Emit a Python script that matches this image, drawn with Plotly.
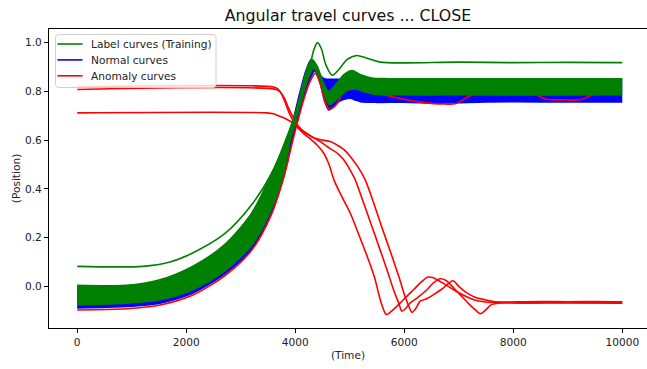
import plotly.graph_objects as go

# ---- Label curves (training): envelope of the dense band ----
label_hi_t = [0, 900, 1500, 2100, 2700, 3200, 3550, 3800, 3970, 4090, 4200, 4300, 4400, 4500, 4610,
              4750, 4900, 5040, 5200, 5400, 5700, 7000, 8500, 10000]
label_hi_v = [0.004, 0.004, 0.026, 0.08, 0.17, 0.30, 0.455, 0.58, 0.683, 0.785, 0.88, 0.932, 0.905, 0.845, 0.80,
              0.83, 0.87, 0.885, 0.868, 0.855, 0.852, 0.852, 0.852, 0.852]
label_lo_t = [0, 900, 1500, 2100, 2700, 3200, 3550, 3800, 3910, 4000, 4120, 4230, 4340, 4440, 4530,
              4630, 4780, 4930, 5060, 5250, 5450, 5700, 7000, 8500, 10000]
label_lo_v = [-0.075, -0.069, -0.056, -0.016, 0.062, 0.168, 0.31, 0.478, 0.60, 0.67, 0.77, 0.85, 0.895, 0.86, 0.79,
              0.745, 0.772, 0.80, 0.813, 0.80, 0.788, 0.786, 0.786, 0.785, 0.786]

# single training curve that sits above the band
label_top_t = [0, 1200, 1700, 2100, 2700, 3200, 3600, 3850, 3970, 4100, 4250, 4340, 4410, 4480, 4560,
               4680, 4800, 4950, 5130, 5300, 5560, 6000, 7000, 8000, 9000, 10000]
label_top_v = [0.082, 0.082, 0.1, 0.135, 0.215, 0.335, 0.478, 0.615, 0.683, 0.76, 0.88, 0.97, 1.0, 0.975, 0.91,
               0.866, 0.89, 0.93, 0.947, 0.937, 0.92, 0.917, 0.92, 0.918, 0.919, 0.918]

# ---- Normal curves: envelope of the dense band ----
normal_hi_t = [0, 900, 1500, 2100, 2700, 3200, 3550, 3800, 3960, 4080, 4190, 4290, 4380, 4460, 4530,
               5000, 6000, 7000, 8000, 9000, 10000]
normal_hi_v = [0.0, 0.0, 0.022, 0.076, 0.165, 0.295, 0.45, 0.578, 0.683, 0.79, 0.88, 0.93, 0.905, 0.865, 0.852,
               0.85, 0.848, 0.848, 0.848, 0.848, 0.848]
normal_lo_t = [0, 900, 1500, 2100, 2700, 3200, 3550, 3800, 3930, 4030, 4140, 4250, 4360, 4450, 4540,
               4615, 4700, 4800, 4900, 5010, 5100, 5200, 5500, 6000, 6600, 7000, 7500, 8500, 10000]
normal_lo_v = [-0.089, -0.083, -0.07, -0.03, 0.05, 0.155, 0.295, 0.462, 0.59, 0.675, 0.765, 0.84, 0.885, 0.84, 0.76,
               0.724, 0.735, 0.758, 0.768, 0.772, 0.765, 0.758, 0.755, 0.756, 0.752, 0.754, 0.757, 0.757, 0.757]

# ---- Anomaly curves ----
anom_1_t = [0, 900, 1500, 2100, 2700, 3200, 3550, 3800, 3940, 4040, 4150, 4260, 4370, 4460, 4550, 4625,
            4750, 4900, 5100, 5350, 5560, 5900, 6233, 6450, 6750, 6950, 7150, 7400, 7800, 8300, 8600, 8900,
            9230, 9500, 9800, 10000]
anom_1_v = [-0.097, -0.092, -0.078, -0.038, 0.042, 0.148, 0.288, 0.455, 0.585, 0.672, 0.762, 0.835, 0.875, 0.83,
            0.755, 0.728, 0.745, 0.80, 0.81, 0.81, 0.79, 0.772, 0.758, 0.752, 0.748, 0.75, 0.775, 0.80, 0.81,
            0.80, 0.768, 0.765, 0.766, 0.79, 0.805, 0.805]

anom_2_t = [0, 3600, 3680, 3760, 3830, 3900, 3970, 4050, 4130, 4250, 4400, 4520, 4620, 4710, 4850, 5010,
            5170, 5320, 5450, 5560, 5620, 5670, 5750, 5850, 5930, 6050, 6170, 6300, 6433, 6520, 6600, 6750,
            6905, 7100, 7272, 7450, 7640, 8000, 8500, 9000, 9500, 10000]
anom_2_v = [0.818, 0.818, 0.81, 0.785, 0.745, 0.705, 0.676, 0.65, 0.632, 0.61, 0.58, 0.547, 0.50, 0.437, 0.37,
            0.30, 0.21, 0.123, 0.04, -0.055, -0.095, -0.116, -0.105, -0.085, -0.068, -0.04, -0.014, 0.015,
            0.038, 0.036, 0.027, 0.008, -0.014, -0.038, -0.055, -0.063, -0.066, -0.064, -0.062, -0.063,
            -0.062, -0.063]

anom_3_t = [0, 3650, 3720, 3800, 3880, 3970, 4050, 4130, 4250, 4340, 4500, 4640, 4780, 4900, 5020, 5150,
            5284, 5450, 5600, 5750, 5900, 6020, 6100, 6141, 6200, 6294, 6420, 6538, 6700, 6893, 7000, 7150,
            7300, 7517, 7800, 8200, 9000, 10000]
anom_3_v = [0.808, 0.808, 0.798, 0.772, 0.73, 0.69, 0.66, 0.64, 0.622, 0.61, 0.60, 0.594, 0.578, 0.56, 0.53,
            0.49, 0.437, 0.335, 0.235, 0.14, 0.04, -0.045, -0.09, -0.107, -0.095, -0.061, -0.05, -0.034, -0.01,
            0.023, 0.0, -0.027, -0.045, -0.057, -0.066, -0.067, -0.066, -0.066]

anom_4_t = [0, 3480, 3600, 3725, 3850, 3969, 4090, 4214, 4330, 4450, 4642, 4780, 4886, 5000, 5101, 5250,
            5400, 5534, 5680, 5804, 5900, 5958, 6030, 6110, 6250, 6416, 6540, 6660, 6760, 6900, 7050, 7200,
            7320, 7394, 7480, 7600, 7800, 8200, 9000, 10000]
anom_4_v = [0.712, 0.712, 0.708, 0.697, 0.685, 0.67, 0.648, 0.625, 0.61, 0.595, 0.565, 0.545, 0.52, 0.48, 0.437,
            0.345, 0.25, 0.164, 0.07, -0.014, -0.07, -0.102, -0.09, -0.068, -0.045, -0.014, 0.015, 0.031, 0.025,
            -0.005, -0.04, -0.075, -0.1, -0.112, -0.1, -0.075, -0.068, -0.069, -0.068, -0.069]

x_ticks = [0, 2000, 4000, 6000, 8000, 10000]
y_ticks = [0.0, 0.2, 0.4, 0.6, 0.8, 1.0]

legend_names = ["Label curves (Training)", "Normal curves", "Anomaly curves"]

GREEN = "#008000"
BLUE = "#0000ff"
RED = "#ff0000"
legend_colors = [GREEN, BLUE, RED]
FONT = "DejaVu Sans"
TEXT = "#222222"
LW = 1.6

W, H = 647, 369
M_L, M_R, M_T, M_B = 49, 0, 29, 41
PLOT_W, PLOT_H = W - M_L - M_R, H - M_T - M_B


def px_x(p):
    return (p - M_L) / PLOT_W


def px_y(p):
    return (H - M_B - p) / PLOT_H


fig = go.Figure()


def curve(t, v, color, fill=None):
    fig.add_trace(go.Scatter(
        x=t, y=v, mode="lines", showlegend=False, hoverinfo="skip",
        line=dict(color=color, width=LW, shape="spline", smoothing=0.8),
        fill=fill, fillcolor=color if fill else None,
    ))


# normal band
curve(normal_lo_t, normal_lo_v, BLUE)
curve(normal_hi_t, normal_hi_v, BLUE, fill="tonexty")

# anomalies
for t, v in [(anom_1_t, anom_1_v), (anom_2_t, anom_2_v), (anom_3_t, anom_3_v), (anom_4_t, anom_4_v)]:
    curve(t, v, RED)

# training band and its upper outlier
curve(label_lo_t, label_lo_v, GREEN)
curve(label_hi_t, label_hi_v, GREEN, fill="tonexty")
curve(label_top_t, label_top_v, GREEN)

# legend box drawn in the upper-left corner of the axes
x0, x1, y0, y1, r = 55.5, 216, 34.5, 87.5, 3
box_path = (
    f"M {px_x(x0 + r)},{px_y(y0)} L {px_x(x1 - r)},{px_y(y0)} "
    f"Q {px_x(x1)},{px_y(y0)} {px_x(x1)},{px_y(y0 + r)} "
    f"L {px_x(x1)},{px_y(y1 - r)} Q {px_x(x1)},{px_y(y1)} {px_x(x1 - r)},{px_y(y1)} "
    f"L {px_x(x0 + r)},{px_y(y1)} Q {px_x(x0)},{px_y(y1)} {px_x(x0)},{px_y(y1 - r)} "
    f"L {px_x(x0)},{px_y(y0 + r)} Q {px_x(x0)},{px_y(y0)} {px_x(x0 + r)},{px_y(y0)} Z"
)
shapes = [dict(type="path", xref="paper", yref="paper", path=box_path,
               fillcolor="rgba(255,255,255,0.8)", line=dict(color="#d0d0d0", width=1), layer="above")]
annotations = []
for i, (name, color) in enumerate(zip(legend_names, legend_colors)):
    yy = 44 + i * 15.9
    shapes.append(dict(type="line", xref="paper", yref="paper", layer="above",
                       x0=px_x(57.5), x1=px_x(82.5), y0=px_y(yy), y1=px_y(yy),
                       line=dict(color=color, width=LW)))
    annotations.append(dict(text=name, xref="paper", yref="paper", x=px_x(89), y=px_y(yy),
                            xanchor="left", yanchor="middle", showarrow=False,
                            font=dict(family=FONT, size=10.6, color=TEXT)))

axis_common = dict(
    showline=True, linecolor="black", linewidth=1,
    ticks="outside", ticklen=4, tickwidth=1, tickcolor="black",
    showgrid=False, zeroline=False,
    tickfont=dict(family=FONT, size=10.6, color=TEXT),
)

fig.update_layout(
    width=W, height=H,
    margin=dict(l=M_L, r=M_R, t=M_T, b=M_B),
    paper_bgcolor="white", plot_bgcolor="white",
    title=dict(text="Angular travel curves ... CLOSE", x=0.5, xref="paper",
               y=1 - 15 / H, yanchor="middle", yref="container",
               font=dict(family=FONT, size=15.8, color="#111")),
    xaxis=dict(range=[-518, 10454], tickvals=x_ticks, tickformat="d", mirror=True,
               title=dict(text="(Time)", standoff=4, font=dict(family=FONT, size=10.6, color=TEXT)),
               **axis_common),
    yaxis=dict(range=[-0.171, 1.056], tickvals=y_ticks, tickformat=".1f", mirror=False,
               title=dict(text="(Position)", standoff=2, font=dict(family=FONT, size=10.6, color=TEXT)),
               **axis_common),
    shapes=shapes,
    annotations=annotations,
    showlegend=False,
)

fig.write_html("out.html")
